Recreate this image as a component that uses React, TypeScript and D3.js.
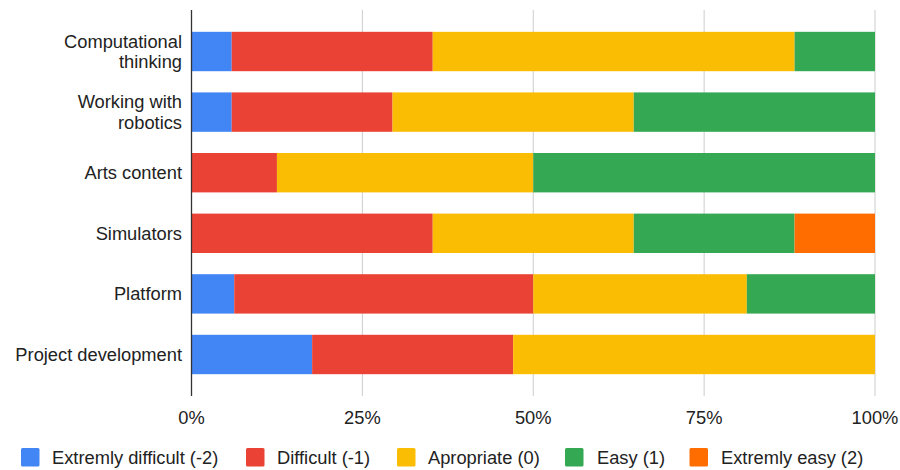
import React from "react";
import * as d3 from "d3";

const categories = [
  ["Computational", "thinking"],
  ["Working with", "robotics"],
  ["Arts content"],
  ["Simulators"],
  ["Platform"],
  ["Project development"],
];
const seriesNames = [
  "Extremly difficult (-2)",
  "Difficult (-1)",
  "Apropriate (0)",
  "Easy (1)",
  "Extremly easy (2)",
];
const seriesColors = ["#4285F4", "#EA4335", "#FBBC04", "#34A853", "#FF6D01"];
// Share of responses per rating (fractions of each row)
const extremelyDifficult = [1 / 17, 1 / 17, 0, 0, 1 / 16, 3 / 17];
const difficult = [5 / 17, 4 / 17, 2 / 16, 6 / 17, 7 / 16, 5 / 17];
const appropriate = [9 / 17, 6 / 17, 6 / 16, 5 / 17, 5 / 16, 9 / 17];
const easy = [2 / 17, 6 / 17, 8 / 16, 4 / 17, 3 / 16, 0];
const extremelyEasy = [0, 0, 0, 2 / 17, 0, 0];
const xTicks = [0, 0.25, 0.5, 0.75, 1];

const W = 900;
const H = 470;
const left = 191.5;
const right = 875;
const top = 10;
const bottom = 396;
const font = "'Liberation Sans', Arial, sans-serif";
const textColor = "#222";
const fs = 18.3;

export default function App() {
  const series = [extremelyDifficult, difficult, appropriate, easy, extremelyEasy];
  const rows = categories.map((c, i) => {
    const obj: Record<string, number> = { i };
    seriesNames.forEach((s, k) => (obj[s] = series[k][i]));
    return obj;
  });
  const stacked = d3.stack<Record<string, number>>().keys(seriesNames)(rows);

  const x = d3.scaleLinear().domain([0, 1]).range([left, right]);
  const y = d3
    .scaleBand<number>()
    .domain(categories.map((_, i) => i))
    .range([top, bottom])
    .paddingInner(0.35)
    .paddingOuter(0.36);

  const legendItems = [
    { sx: 21, tx: 52 },
    { sx: 246, tx: 277 },
    { sx: 397, tx: 428 },
    { sx: 565, tx: 597 },
    { sx: 689.5, tx: 721 },
  ];

  return (
    <svg
      width={W}
      height={H}
      style={{ position: "absolute", left: 0, top: 0, background: "#fff" }}
      fontFamily={font}
    >
      {/* grid */}
      {xTicks.slice(1).map((t) => (
        <line key={t} x1={x(t)} x2={x(t)} y1={top} y2={bottom} stroke="#ccc" strokeWidth={1} />
      ))}
      {/* bars */}
      {stacked.map((layer, k) => (
        <g key={layer.key} fill={seriesColors[k]}>
          {layer.map((d, i) =>
            d[1] - d[0] > 0 ? (
              <rect
                key={i}
                x={x(d[0])}
                y={y(i)!}
                width={x(d[1]) - x(d[0])}
                height={y.bandwidth()}
              />
            ) : null
          )}
        </g>
      ))}
      {/* baseline */}
      <line x1={left} x2={left} y1={top} y2={bottom} stroke="#333" strokeWidth={1.3} />
      {/* category labels */}
      {categories.map((lines, i) => {
        const cy = y(i)! + y.bandwidth() / 2;
        const lh = 20.7;
        const start = cy - ((lines.length - 1) * lh) / 2;
        return (
          <text key={i} textAnchor="end" fontSize={fs} fill={textColor}>
            {lines.map((l, j) => (
              <tspan key={j} x={182} y={start + j * lh} dy="0.35em">
                {l}
              </tspan>
            ))}
          </text>
        );
      })}
      {/* x tick labels */}
      {xTicks.map((t) => (
        <text
          key={t}
          x={x(t)}
          y={418}
          dy="0.35em"
          textAnchor="middle"
          fontSize={fs}
          fill={textColor}
        >
          {d3.format(".0%")(t)}
        </text>
      ))}
      {/* legend */}
      {seriesNames.map((s, k) => (
        <g key={s}>
          <rect
            x={legendItems[k].sx}
            y={448}
            width={18.5}
            height={18.5}
            rx={1.5}
            fill={seriesColors[k]}
          />
          <text x={legendItems[k].tx} y={457.5} dy="0.35em" fontSize={fs} fill={textColor}>
            {s}
          </text>
        </g>
      ))}
    </svg>
  );
}
